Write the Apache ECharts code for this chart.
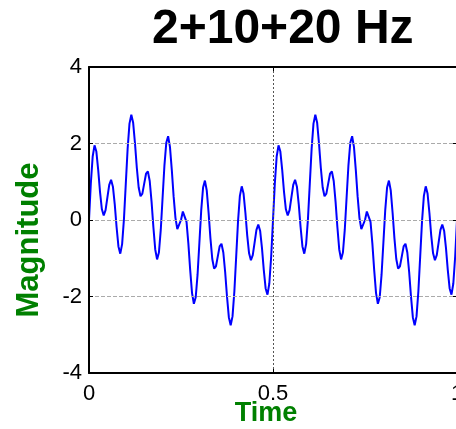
<!DOCTYPE html>
<html>
<head>
<meta charset="utf-8">
<script src="https://cdn.jsdelivr.net/npm/echarts@6/dist/echarts.min.js"></script>
<style>
html,body{margin:0;padding:0;background:#fff;}
#chart{width:456px;height:429px;}
</style>
</head>
<body>
<div id="chart"></div>
<script>
// Chart text
var titleText = '2+10+20 Hz';
var xName = 'Time';
var yName = 'Magnitude';

// Axis ticks
var xTicks = [0, 0.5, 1];
var yTicks = [-4, -2, 0, 2, 4];

// Sample spacing of the signal (seconds)
var sampleStep = 0.005;

// Signal magnitude, one value per sample (t = 0 ... 1)
var magnitude = [
  0, 0.96, 1.66, 1.95, 1.79, 1.31, 0.73, 0.28, 0.12, 0.26,
  0.59, 0.92, 1.05, 0.87, 0.41, -0.19, -0.69, -0.88, -0.63, 0.03,
  0.95, 1.87, 2.52, 2.75, 2.54, 2.00, 1.36, 0.85, 0.62, 0.69,
  0.95, 1.21, 1.27, 1.02, 0.48, -0.19, -0.77, -1.03, -0.85, -0.26,
  0.59, 1.43, 2.02, 2.19, 1.91, 1.31, 0.61, 0.05, -0.24, -0.22,
  0, 0.22, 0.24, -0.05, -0.61, -1.31, -1.91, -2.19, -2.02, -1.43,
  -0.59, 0.26, 0.85, 1.03, 0.77, 0.19, -0.48, -1.02, -1.27, -1.21,
  -0.95, -0.69, -0.62, -0.85, -1.36, -2.00, -2.54, -2.75, -2.52, -1.87,
  -0.95, -0.03, 0.63, 0.88, 0.69, 0.19, -0.41, -0.87, -1.05, -0.92,
  -0.59, -0.26, -0.12, -0.28, -0.73, -1.31, -1.79, -1.95, -1.66, -0.96,
  0, 0.96, 1.66, 1.95, 1.79, 1.31, 0.73, 0.28, 0.12, 0.26,
  0.59, 0.92, 1.05, 0.87, 0.41, -0.19, -0.69, -0.88, -0.63, 0.03,
  0.95, 1.87, 2.52, 2.75, 2.54, 2.00, 1.36, 0.85, 0.62, 0.69,
  0.95, 1.21, 1.27, 1.02, 0.48, -0.19, -0.77, -1.03, -0.85, -0.26,
  0.59, 1.43, 2.02, 2.19, 1.91, 1.31, 0.61, 0.05, -0.24, -0.22,
  0, 0.22, 0.24, -0.05, -0.61, -1.31, -1.91, -2.19, -2.02, -1.43,
  -0.59, 0.26, 0.85, 1.03, 0.77, 0.19, -0.48, -1.02, -1.27, -1.21,
  -0.95, -0.69, -0.62, -0.85, -1.36, -2.00, -2.54, -2.75, -2.52, -1.87,
  -0.95, -0.03, 0.63, 0.88, 0.69, 0.19, -0.41, -0.87, -1.05, -0.92,
  -0.59, -0.26, -0.12, -0.28, -0.73, -1.31, -1.79, -1.95, -1.66, -0.96,
  0
];

var seriesData = magnitude.map(function (v, i) {
  return [+(i * sampleStep).toFixed(3), v];
});

var FONT = '"Liberation Sans", Arial, Helvetica, sans-serif';
var chart = echarts.init(document.getElementById('chart'), null, {renderer: 'canvas'});

var tickLabelStyle = {
  color: '#000',
  fontSize: 22,
  fontFamily: FONT,
  showMinLabel: true,
  showMaxLabel: true
};

function frameAxis(pos, isX) {
  var ax = {
    type: 'value',
    position: pos,
    min: isX ? xTicks[0] : yTicks[0],
    max: isX ? xTicks[xTicks.length - 1] : yTicks[yTicks.length - 1],
    interval: isX ? xTicks[1] - xTicks[0] : yTicks[1] - yTicks[0],
    axisLine: {show: true, onZero: false, lineStyle: {color: '#000', width: 2}},
    axisTick: {show: true, inside: true, length: 4, lineStyle: {color: '#000', width: 1}},
    axisLabel: {show: false},
    splitLine: {show: false},
    z: 5
  };
  return ax;
}

var xMain = frameAxis('bottom', true);
xMain.axisLabel = Object.assign({show: true, margin: 10, formatter: function (v) { return String(v); }}, tickLabelStyle);
xMain.splitLine = {show: true, showMinLine: false, showMaxLine: false, lineStyle: {color: '#555', width: 1, type: [2, 2]}};

var yMain = frameAxis('left', false);
yMain.axisLabel = Object.assign({show: true, margin: 7}, tickLabelStyle);
yMain.splitLine = {show: true, showMinLine: false, showMaxLine: false, lineStyle: {color: '#aaa', width: 1, type: [4, 2]}};

chart.setOption({
  animation: false,
  backgroundColor: '#fff',
  grid: {
    left: 89, right: -1, top: 67, bottom: 56,
    containLabel: false,
    outerBoundsMode: 'none'
  },
  xAxis: [xMain, frameAxis('top', true)],
  yAxis: [yMain, frameAxis('right', false)],
  series: [{
    type: 'line',
    data: seriesData,
    showSymbol: false,
    symbol: 'none',
    lineStyle: {color: '#0000ff', width: 2},
    z: 3
  }],
  graphic: [
    {
      type: 'text', left: 152, top: 6,
      style: {text: titleText, fill: '#000', font: 'bold 48px ' + FONT}
    },
    {
      type: 'text', x: 29, y: 240, rotation: Math.PI / 2,
      style: {text: yName, fill: '#008000', font: 'bold 31px ' + FONT, textAlign: 'center', textVerticalAlign: 'middle'}
    },
    {
      type: 'text', x: 266, y: 414,
      style: {text: xName, fill: '#008000', font: 'bold 27px ' + FONT, textAlign: 'center', textVerticalAlign: 'middle'}
    }
  ]
});
</script>
</body>
</html>
